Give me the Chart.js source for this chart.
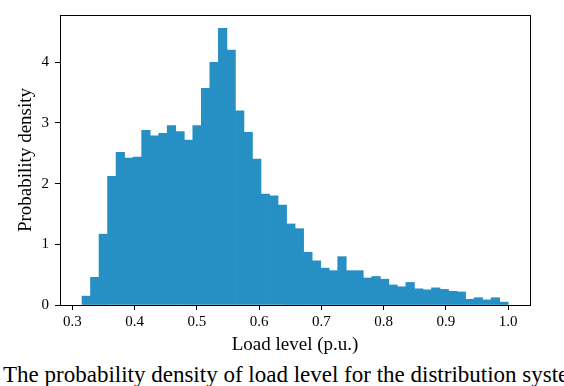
<!DOCTYPE html>
<html><head><meta charset="utf-8">
<script src="https://cdn.jsdelivr.net/npm/chart.js@4"></script>
<style>
html,body{margin:0;padding:0;background:#fff;overflow:hidden;}
#wrap{position:absolute;left:0;top:0;width:564px;height:360px;}
#cap{position:absolute;left:3px;top:363px;white-space:nowrap;font-family:"Liberation Serif",serif;font-size:23px;line-height:1;color:#000;}
</style></head><body>
<div id="wrap"><canvas id="c" width="564" height="360"></canvas></div>
<div id="cap">The probability density of load level for the distribution system</div>
<script>
const binStart = 0.3156;
const binWidth = 0.013688;
const densities = [0.146,0.456,1.168,2.12,2.516,2.42,2.437,2.88,2.79,2.83,
  2.956,2.857,2.72,2.956,3.57,4.0,4.56,4.2,3.2,2.846,
  2.406,1.829,1.80,1.646,1.336,1.258,0.87,0.728,0.608,0.566,
  0.797,0.566,0.566,0.445,0.47,0.425,0.33,0.30,0.372,0.267,
  0.25,0.283,0.257,0.225,0.215,0.094,0.12,0.084,0.12,0.047];
const xTicks = [0.3,0.4,0.5,0.6,0.7,0.8,0.9,1.0];
const yTicks = [0,1,2,3,4];

const points = densities.map((d,i)=>({x: binStart + (i+0.5)*binWidth, y: d}));
const FAM = '"Liberation Serif", "Times New Roman", serif';

const frame = {id:'frame', afterDraw(ch){const a=ch.chartArea,c=ch.ctx;c.save();c.strokeStyle='#000';c.lineWidth=1;c.strokeRect(Math.round(a.left)+0.5,Math.round(a.top)+0.5,Math.round(a.right-a.left),Math.round(a.bottom-a.top));c.restore();}};

new Chart(document.getElementById('c'),{
  type:'bar',
  data:{datasets:[{data:points,backgroundColor:'#268fc4',borderWidth:0,barPercentage:1,categoryPercentage:1}]},
  options:{
    responsive:false,animation:false,
    layout:{padding:{top:1,right:34,left:0,bottom:0}},
    plugins:{legend:{display:false},tooltip:{enabled:false}},
    scales:{
      x:{type:'linear',min:0.2803,max:1.035,offset:false,
        afterBuildTicks(s){s.ticks=xTicks.map(v=>({value:v}));},
        afterFit(s){s.height=55;},
        grid:{display:true,offset:false,drawOnChartArea:false,drawTicks:true,tickLength:5,color:'#000'},
        border:{display:true,color:'#000'},
        ticks:{color:'#000',font:{family:FAM,size:15},padding:3,maxRotation:0,autoSkip:false,callback:v=>v.toFixed(1)},
        title:{display:true,text:'Load level (p.u.)',color:'#000',font:{family:FAM,size:19},padding:{top:0,bottom:4}}
      },
      y:{min:0,max:4.78,
        afterBuildTicks(s){s.ticks=yTicks.map(v=>({value:v}));},
        afterFit(s){s.width=60;},
        grid:{display:true,drawOnChartArea:false,drawTicks:true,tickLength:5,color:'#000'},
        border:{display:true,color:'#000'},
        ticks:{color:'#000',font:{family:FAM,size:15},padding:6,autoSkip:false,callback:v=>String(v)},
        title:{display:true,text:'Probability density',color:'#000',font:{family:FAM,size:19},padding:{top:15,bottom:0}}
      }
    }
  },
  plugins:[frame]
});
</script>
</body></html>
